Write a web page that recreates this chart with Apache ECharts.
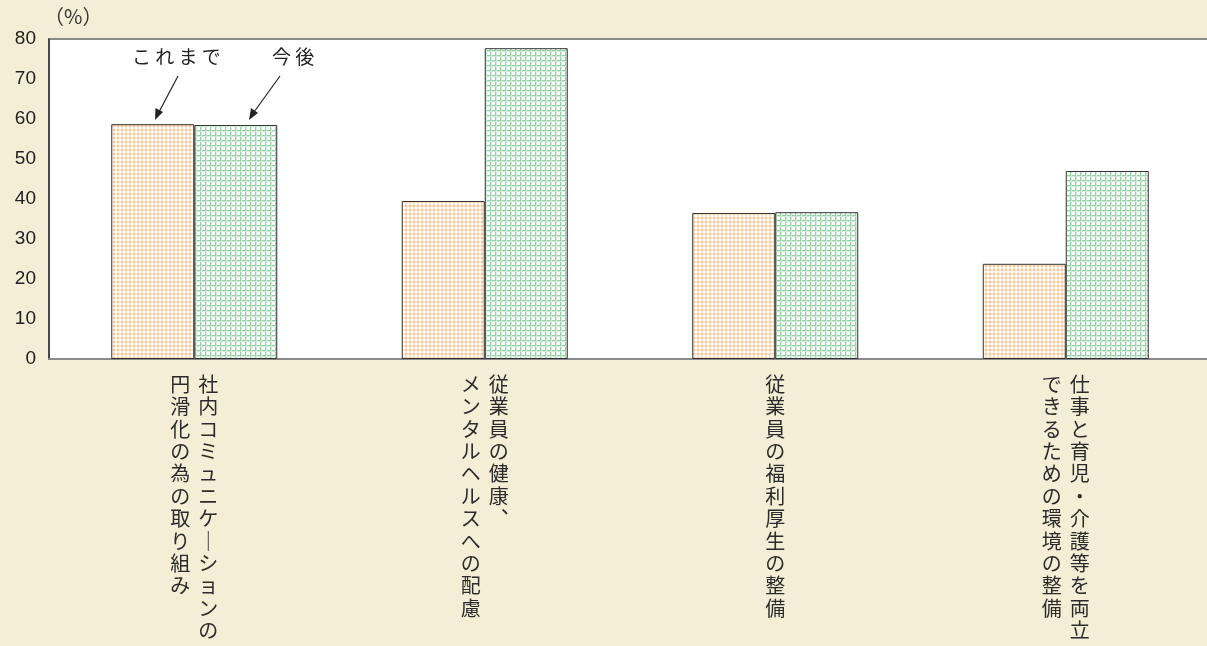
<!DOCTYPE html>
<html>
<head>
<meta charset="utf-8">
<script src="https://cdn.jsdelivr.net/npm/echarts@6/dist/echarts.min.js"></script>
<style>
  html, body { margin: 0; padding: 0; background: #f3eed5; }
  #chart { width: 1207px; height: 646px; }
</style>
</head>
<body>
<div id="chart"></div>
<script>
// Category labels, written vertically: [right column, left column]
const labelColumns = [
  ['社内コミュニケーションの', '円滑化の為の取り組み'],
  ['従業員の健康、', 'メンタルヘルスへの配慮'],
  ['従業員の福利厚生の整備'],
  ['仕事と育児・介護等を両立', 'できるための環境の整備']
];
const categories = labelColumns.map(c => c.join(''));
const seriesNames = ['これまで', '今後'];
const beforeValues = [58.7, 39.5, 36.5, 23.8];
const futureValues = [58.5, 77.7, 36.7, 47.0];
const yTicks = [0, 10, 20, 30, 40, 50, 60, 70, 80];

// Tiled fills: orange dot screen and green grid screen
function makeTile(size, draw) {
  const c = document.createElement('canvas');
  c.width = size; c.height = size;
  const ctx = c.getContext('2d');
  ctx.fillStyle = '#ffffff';
  ctx.fillRect(0, 0, size, size);
  draw(ctx);
  return c;
}
const dotTile = makeTile(4, ctx => {
  ctx.fillStyle = '#fde8d3';
  ctx.fillRect(1, 0, 2, 4);
  ctx.fillRect(0, 1, 4, 2);
  ctx.fillStyle = '#f9c898';
  ctx.fillRect(1, 1, 2, 2);
});
const gridTile = makeTile(5, ctx => {
  ctx.fillStyle = '#94cfa6';
  ctx.fillRect(0, 0, 5, 1);
  ctx.fillRect(0, 0, 1, 5);
  ctx.fillStyle = '#d3ecdb';
  ctx.fillRect(0, 1, 5, 1);
  ctx.fillRect(1, 0, 1, 5);
  ctx.fillStyle = '#94cfa6';
  ctx.fillRect(0, 0, 1, 1);
});

// Vertical writing forms for glyphs that turn in vertical text
const verticalForms = { 'ー': '｜', '、': '︑' };
function verticalLabel(value, index) {
  const cols = labelColumns[index];
  const right = Array.from(cols[0]).map(ch => verticalForms[ch] || ch);
  const left = cols[1] ? Array.from(cols[1]).map(ch => verticalForms[ch] || ch) : null;
  const rows = [];
  const n = Math.max(right.length, left ? left.length : 0);
  for (let i = 0; i < n; i++) {
    if (left) {
      rows.push('{c|' + (left[i] || '　') + '}{c|' + (right[i] || '　') + '}');
    } else {
      rows.push('{c|' + (right[i] || '　') + '}');
    }
  }
  return rows.join('\n');
}

const cjk = '"Noto Sans CJK JP", sans-serif';
const chart = echarts.init(document.getElementById('chart'), null, { renderer: 'canvas' });
chart.setOption({
  backgroundColor: '#f3eed5',
  animation: false,
  grid: {
    left: 49, top: 39, width: 1162, height: 320,
    outerBoundsMode: 'none',
    show: true, backgroundColor: '#ffffff',
    borderColor: '#8a8a8a', borderWidth: 2
  },
  xAxis: {
    type: 'category',
    data: categories,
    axisLine: { show: true, lineStyle: { color: '#8a8a8a', width: 2 } },
    axisTick: { show: false },
    axisLabel: {
      interval: 0,
      margin: 14,
      verticalAlign: 'top',
      formatter: verticalLabel,
      rich: {
        c: {
          width: 28, align: 'center',
          fontSize: 20, lineHeight: 22.4,
          color: '#2b2b2b',
          fontFamily: cjk
        }
      }
    }
  },
  yAxis: {
    type: 'value',
    min: 0, max: 80, interval: 10,
    axisLine: { show: true, lineStyle: { color: '#333333', width: 1.5 } },
    axisTick: { show: false },
    splitLine: { show: false },
    axisLabel: {
      margin: 13,
      fontSize: 19,
      color: '#222222',
      fontFamily: '"Liberation Sans", Arial, sans-serif',
      formatter: v => yTicks.includes(v) ? String(v) : ''
    }
  },
  series: [
    {
      name: seriesNames[0], type: 'bar', data: beforeValues,
      barWidth: 83, barGap: '0%',
      itemStyle: { color: { image: dotTile, repeat: 'repeat' }, borderColor: '#333333', borderWidth: 1 }
    },
    {
      name: seriesNames[1], type: 'bar', data: futureValues,
      barWidth: 83, barGap: '0%',
      itemStyle: { color: { image: gridTile, repeat: 'repeat' }, borderColor: '#333333', borderWidth: 1 }
    }
  ],
  graphic: [
    {
      type: 'text', left: 44, top: 6,
      style: { text: '（%）', fontSize: 20, fill: '#333', fontFamily: cjk }
    },
    {
      type: 'text', left: 132, top: 47,
      style: { text: 'こ れ ま で', fontSize: 19, fill: '#222', fontFamily: cjk }
    },
    {
      type: 'text', left: 272, top: 47,
      style: { text: '今 後', fontSize: 19, fill: '#222', fontFamily: cjk }
    },
    {
      type: 'line', shape: { x1: 178, y1: 76, x2: 159, y2: 112 },
      style: { stroke: '#222', lineWidth: 1.2 }
    },
    {
      type: 'polygon', shape: { points: [[155, 120], [155.5, 108], [163, 112]] },
      style: { fill: '#222' }
    },
    {
      type: 'line', shape: { x1: 280, y1: 76, x2: 254, y2: 112 },
      style: { stroke: '#222', lineWidth: 1.2 }
    },
    {
      type: 'polygon', shape: { points: [[249, 120], [251, 108], [258, 113]] },
      style: { fill: '#222' }
    }
  ]
});
</script>
</body>
</html>
